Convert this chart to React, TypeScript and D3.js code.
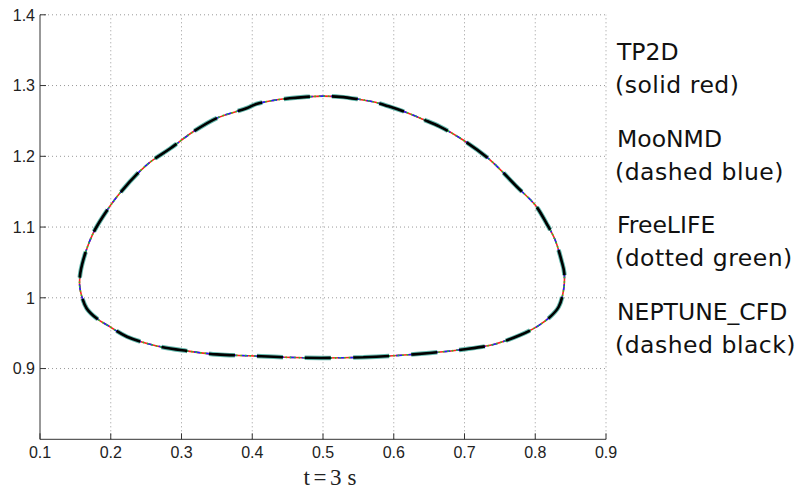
import React from "react";
import * as d3 from "d3";

// Bubble contour at t = 3 s, counter-clockwise from bottom centre
const contourX = [
  0.498, 0.557, 0.599, 0.651, 0.698, 0.741, 0.778, 0.802, 0.821, 0.833, 0.840, 0.841,
  0.837, 0.828, 0.816, 0.800, 0.774, 0.736, 0.698, 0.665, 0.642, 0.618, 0.595, 0.571,
  0.548, 0.524, 0.500, 0.477, 0.453, 0.430, 0.406, 0.392, 0.350, 0.317, 0.284, 0.251,
  0.213, 0.189, 0.175, 0.164, 0.157, 0.156, 0.159, 0.166, 0.180, 0.199, 0.223, 0.265,
  0.307, 0.350, 0.397, 0.444,
];
const contourY = [
  0.915, 0.916, 0.918, 0.922, 0.927, 0.934, 0.947, 0.959, 0.973, 0.987, 1.011, 1.035,
  1.053, 1.082, 1.105, 1.131, 1.157, 1.195, 1.223, 1.242, 1.252, 1.262, 1.270, 1.277,
  1.281, 1.284, 1.285, 1.284, 1.282, 1.279, 1.274, 1.268, 1.254, 1.235, 1.211, 1.188,
  1.148, 1.115, 1.091, 1.063, 1.035, 1.018, 1.002, 0.985, 0.971, 0.959, 0.945, 0.932,
  0.925, 0.920, 0.918, 0.916,
];

const seriesNames = ["TP2D", "MooNMD", "FreeLIFE", "NEPTUNE_CFD"];
const seriesDescriptions = ["(solid red)", "(dashed blue)", "(dotted green)", "(dashed black)"];

const xTicks = [0.1, 0.2, 0.3, 0.4, 0.5, 0.6, 0.7, 0.8, 0.9];
const yTicks = [0.9, 1.0, 1.1, 1.2, 1.3, 1.4];
const xTickLabels = ["0.1", "0.2", "0.3", "0.4", "0.5", "0.6", "0.7", "0.8", "0.9"];
const yTickLabels = ["0.9", "1", "1.1", "1.2", "1.3", "1.4"];
const xAxisTitleParts = ["t", "=", "3", "s"];

export default function App() {
  const W = 806, H = 491;
  const x = d3.scaleLinear().domain([0.1, 0.9]).range([40, 606]);
  const y = d3.scaleLinear().domain([0.8, 1.4]).range([439.3, 14.8]);
  const pts: [number, number][] = contourX.map((v, i) => [v, contourY[i]]);
  const line = d3
    .line<[number, number]>()
    .x((d) => x(d[0]))
    .y((d) => y(d[1]))
    .curve(d3.curveCatmullRomClosed.alpha(0.5));
  const path = line(pts) || "";

  const styles = [
    { stroke: "#ff2020", width: 1.6, dash: undefined as string | undefined },
    { stroke: "#2020ff", width: 1.6, dash: "6,6" },
    { stroke: "#22cc22", width: 1.6, dash: "1.5,3" },
  ];

  const axisColor = "#333";
  const gridColor = "#999";
  const tickFont = "'Liberation Sans', Arial, sans-serif";
  const titleGaps = [0, 3.5, 3.5, 6];

  return (
    <svg
      width={W}
      height={H}
      style={{ position: "absolute", left: 0, top: 0, background: "#fff" }}
      xmlns="http://www.w3.org/2000/svg"
    >
      <rect x={0} y={0} width={W} height={H} fill="#fff" />
      {/* grid */}
      {xTicks.slice(1).map((t) => (
        <line
          key={"gx" + t}
          x1={x(t)}
          x2={x(t)}
          y1={y(0.8)}
          y2={y(1.4)}
          stroke={gridColor}
          strokeWidth={1}
          strokeDasharray="1,3"
        />
      ))}
      {yTicks.map((t) => (
        <line
          key={"gy" + t}
          x1={x(0.1)}
          x2={x(0.9)}
          y1={y(t)}
          y2={y(t)}
          stroke={gridColor}
          strokeWidth={1}
          strokeDasharray="1,3"
        />
      ))}
      {/* axes */}
      <line x1={x(0.1)} x2={x(0.1)} y1={y(0.8)} y2={y(1.4)} stroke={axisColor} strokeWidth={1} />
      <line x1={x(0.1)} x2={x(0.9)} y1={y(0.8)} y2={y(0.8)} stroke={axisColor} strokeWidth={1} />
      {xTicks.map((t, i) => (
        <g key={"xt" + t}>
          <line x1={x(t)} x2={x(t)} y1={y(0.8)} y2={y(0.8) - 6} stroke={axisColor} strokeWidth={1} />
          <text
            x={x(t)}
            y={458}
            textAnchor="middle"
            fontFamily={tickFont}
            fontSize={16}
            fill="#222"
          >
            {xTickLabels[i]}
          </text>
        </g>
      ))}
      {yTicks.map((t, i) => (
        <g key={"yt" + t}>
          <line x1={x(0.1)} x2={x(0.1) + 6} y1={y(t)} y2={y(t)} stroke={axisColor} strokeWidth={1} />
          <text
            x={35}
            y={y(t)}
            dy="0.36em"
            textAnchor="end"
            fontFamily={tickFont}
            fontSize={16}
            fill="#222"
          >
            {yTickLabels[i]}
          </text>
        </g>
      ))}
      {/* curves */}
      {styles.map((s, i) => (
        <path
          key={"c" + i}
          d={path}
          fill="none"
          stroke={s.stroke}
          strokeWidth={s.width}
          strokeDasharray={s.dash}
          strokeDashoffset={i * 3}
        />
      ))}
      <path d={path} fill="none" stroke="#3aa596" strokeWidth={4.5} strokeDasharray="26,22" opacity={0.8} />
      <path d={path} fill="none" stroke="#000" strokeWidth={2.6} strokeDasharray="26,22" />
      {/* x axis title */}
      <text
        x={330}
        y={485}
        textAnchor="middle"
        fontFamily="'Liberation Serif', 'DejaVu Serif', serif"
        fontSize={23}
        fill="#222"
      >
        {xAxisTitleParts.map((p, i) => (
          <tspan key={"tp" + i} dx={titleGaps[i]}>
            {p}
          </tspan>
        ))}
      </text>
      {/* legend text */}
      {seriesNames.map((n, i) => (
        <g key={"lg" + n}>
          <text
            x={617}
            y={60 + i * 86.7}
            fontFamily="'DejaVu Sans', sans-serif"
            fontSize={23.5}
            fill="#111"
          >
            {n}
          </text>
          <text
            x={615}
            y={93 + i * 86.7}
            fontFamily="'DejaVu Sans', sans-serif"
            fontSize={23.5}
            fill="#111"
            letterSpacing={0.5}
          >
            {seriesDescriptions[i]}
          </text>
        </g>
      ))}
    </svg>
  );
}
